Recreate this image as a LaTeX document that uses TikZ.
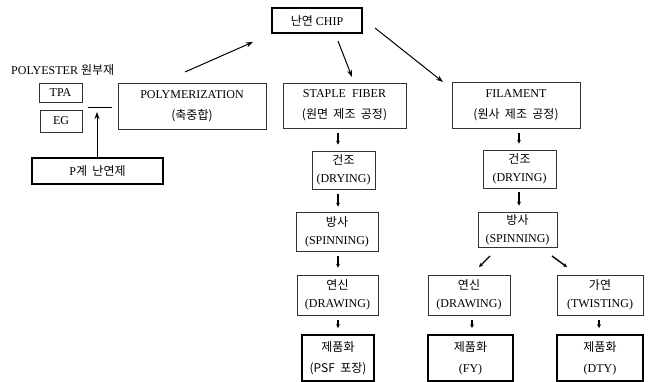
\documentclass[tikz,border=0pt]{standalone}
\usepackage{fontspec}
\setmainfont{Liberation Serif}
\newfontfamily\kr[WordSpace=2]{Noto Sans CJK KR}
\usetikzlibrary{arrows.meta}
\begin{document}
\begin{tikzpicture}[x=1pt,y=-1pt,
  box/.style={draw=black!80,line width=0.6pt,rectangle,inner sep=0pt,align=center,font=\fontsize{12}{14}\selectfont},
  thickbox/.style={box,draw=black,line width=1.6pt},
  arr/.style={draw=black,line width=1pt,-{Stealth[length=7pt,width=5pt]}},
  sarr/.style={draw=black,line width=1.4pt,-{Stealth[length=4pt,width=4pt]}}]
\useasboundingbox (0,0) rectangle (655,382);
% nodes
\node[thickbox,minimum width=90pt,minimum height=25pt] (chip) at (317,20.5) {{\kr 난연} CHIP};
\node[anchor=west,inner sep=0pt,font=\fontsize{12}{14}\selectfont] (plabel) at (11,70) {POLYESTER {\kr 원부재}};
\node[box,minimum width=43pt,minimum height=19pt] (tpa) at (60.5,92.5) {TPA};
\node[box,minimum width=42pt,minimum height=22pt] (eg) at (61,121) {EG};
\node[thickbox,minimum width=131pt,minimum height=26pt] (pflame) at (97.5,171) {P{\kr 계 난연제}};
\node[box,minimum width=148pt,minimum height=46pt] (polym) at (192,106) {POLYMERIZATION\\[7pt]{\kr (축중합)}};
\node[box,minimum width=123pt,minimum height=45pt] (staple) at (344.5,105.5) {STAPLE\ \ FIBER\\[7pt]{\kr (원면 제조 공정)}};
\node[box,minimum width=128pt,minimum height=46pt] (filament) at (516,105) {FILAMENT\\[7pt]{\kr (원사 제조 공정)}};
\node[box,minimum width=63pt,minimum height=38pt] (dry1) at (343.5,170) {{\kr 건조}\\[4pt](DRYING)};
\node[box,minimum width=73pt,minimum height=38pt] (dry2) at (519.5,169) {{\kr 건조}\\[4pt](DRYING)};
\node[box,minimum width=82pt,minimum height=39pt] (spin1) at (337,231.5) {{\kr 방사}\\[4pt](SPINNING)};
\node[box,minimum width=79pt,minimum height=35pt] (spin2) at (517.5,229.5) {{\kr 방사}\\[4pt](SPINNING)};
\node[box,minimum width=81pt,minimum height=40pt] (draw1) at (337.5,295) {{\kr 연신}\\[4pt](DRAWING)};
\node[box,minimum width=82pt,minimum height=40pt] (draw2) at (469,295) {{\kr 연신}\\[4pt](DRAWING)};
\node[box,minimum width=86pt,minimum height=40pt] (twist) at (600,295) {{\kr 가연}\\[4pt](TWISTING)};
\node[thickbox,minimum width=72pt,minimum height=46pt] (prod1) at (338,358) {{\kr 제품화}\\[7pt]{\kr (PSF 포장)}};
\node[thickbox,minimum width=85pt,minimum height=46pt] (prod2) at (470.5,358) {{\kr 제품화}\\[7pt](FY)};
\node[thickbox,minimum width=86pt,minimum height=46pt] (prod3) at (600,358) {{\kr 제품화}\\[7pt](DTY)};
% coordinates
\coordinate (a1s) at (185,72); \coordinate (a1e) at (253,42);
\coordinate (a2s) at (338,41); \coordinate (a2e) at (352,77);
\coordinate (a3s) at (375,28); \coordinate (a3e) at (443,82);
\coordinate (hl1) at (88,108); \coordinate (hl2) at (112,108);
\coordinate (va) at (97,112);
\coordinate (c1) at (338,0); \coordinate (c2) at (519,0);
\coordinate (c3) at (472,0); \coordinate (c4) at (599,0);
% connectors
\draw[arr] (a1s) -- (a1e);
\draw[arr] (a2s) -- (a2e);
\draw[arr] (a3s) -- (a3e);
\draw[line width=1pt] (hl1) -- (hl2);
\draw[arr] (pflame.north -| va) -- (va);
\draw[sarr] ([yshift=-5pt]staple.south -| c1) -- ([yshift=6pt]dry1.north -| c1);
\draw[sarr] ([yshift=-5pt]filament.south -| c2) -- ([yshift=6pt]dry2.north -| c2);
\draw[sarr] ([yshift=-5pt]dry1.south -| c1) -- ([yshift=5pt]spin1.north -| c1);
\draw[sarr] ([yshift=-4pt]dry2.south -| c2) -- ([yshift=6pt]spin2.north -| c2);
\draw[sarr] ([yshift=-5pt]spin1.south -| c1) -- ([yshift=7pt]draw1.north -| c1);
\coordinate (d2s) at (490,256); \coordinate (d2e) at (479,267);
\coordinate (d3s) at (552,256); \coordinate (d3e) at (567,267);
\draw[sarr] (d2s) -- (d2e);
\draw[sarr] (d3s) -- (d3e);
\draw[sarr] ([yshift=-5pt]draw1.south -| c1) -- ([yshift=6pt]prod1.north -| c1);
\draw[sarr] ([yshift=-5pt]draw2.south -| c3) -- ([yshift=6pt]prod2.north -| c3);
\draw[sarr] ([yshift=-5pt]twist.south -| c4) -- ([yshift=6pt]prod3.north -| c4);
\end{tikzpicture}
\end{document}
